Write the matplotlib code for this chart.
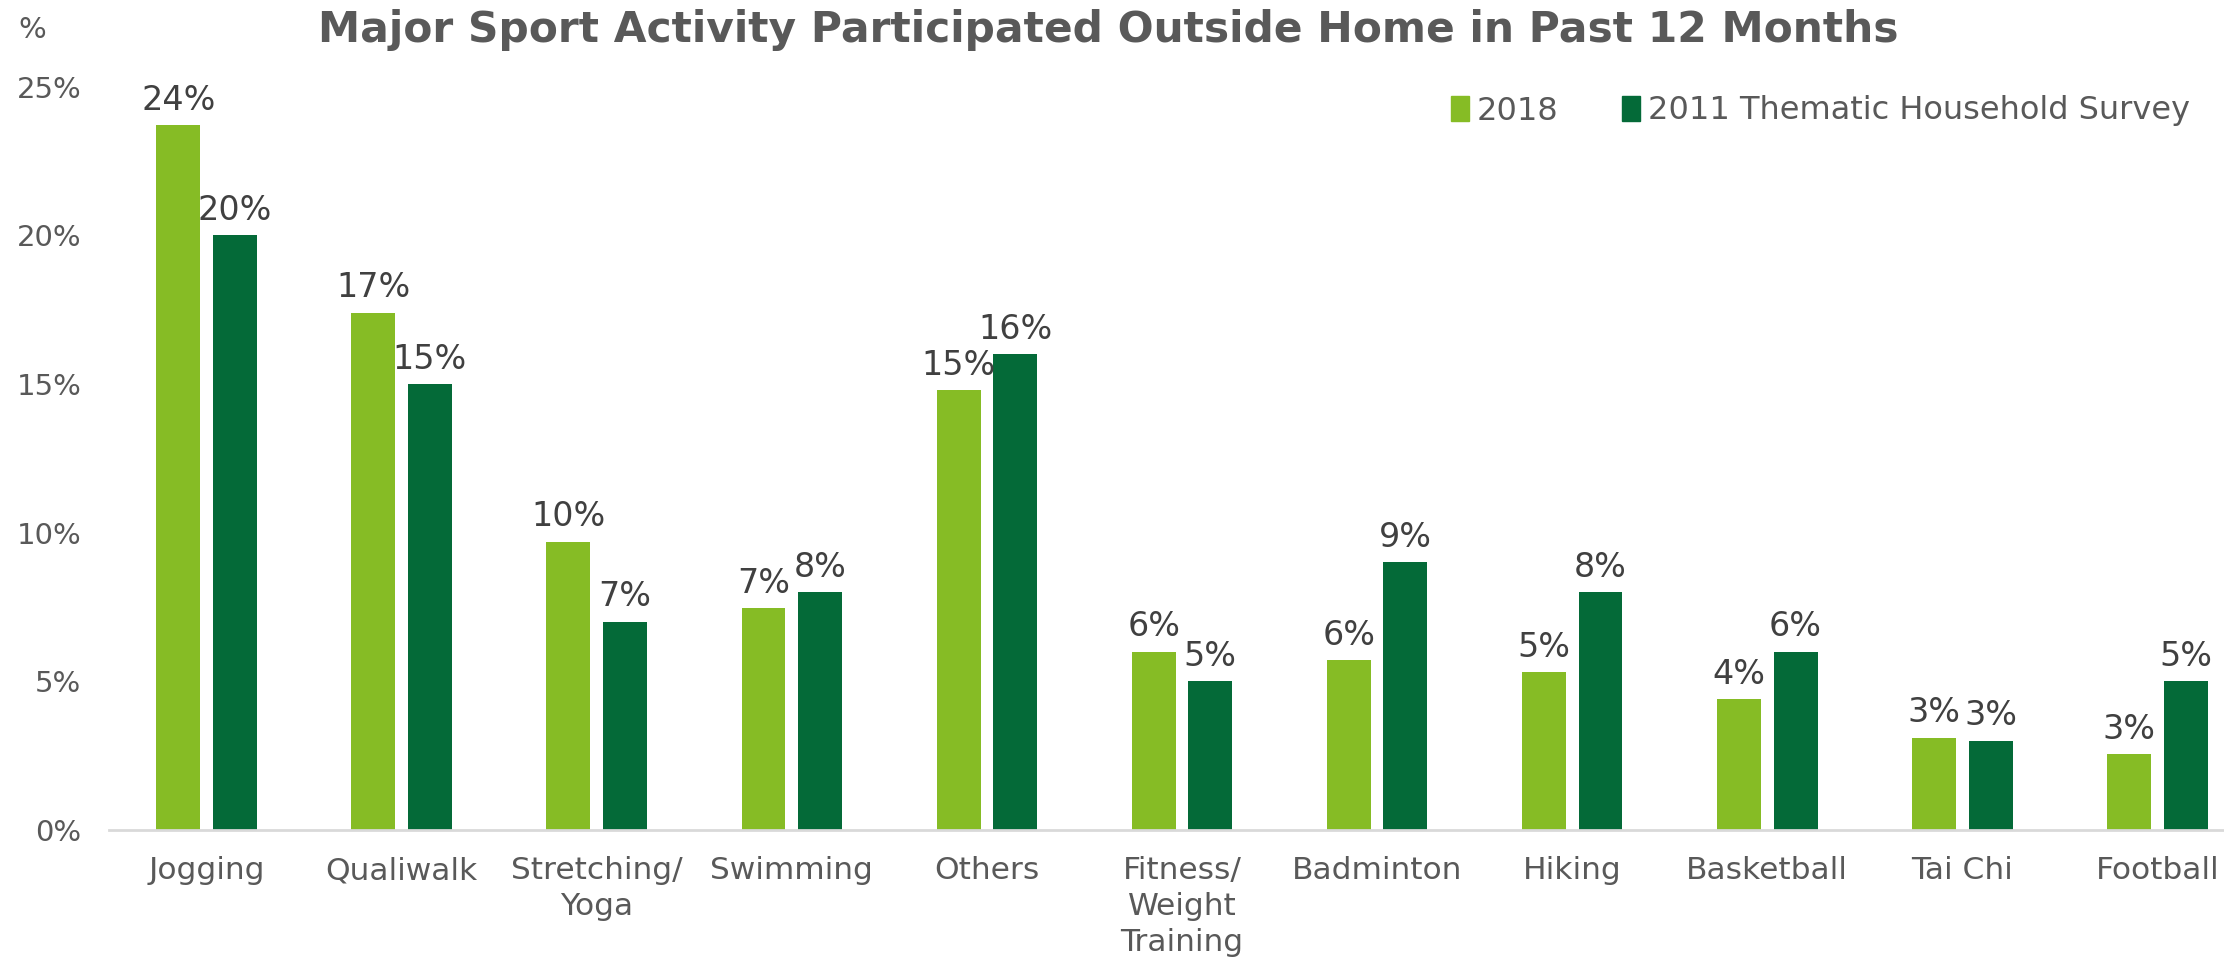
import numpy as np
import matplotlib
matplotlib.use('Agg')
import matplotlib.pyplot as plt
from matplotlib.patches import Patch

#region data
categories = ['Jogging', 'Qualiwalk', 'Stretching/\nYoga', 'Swimming', 'Others',
              'Fitness/\nWeight\nTraining', 'Badminton', 'Hiking', 'Basketball',
              'Tai Chi', 'Football']
vals_2018 = [23.7, 17.4, 9.7, 7.45, 14.8, 6.0, 5.7, 5.3, 4.4, 3.1, 2.55]
vals_2011 = [20, 15, 7, 8, 16, 5, 9, 8, 6, 3, 5]
series_names = ['2018', '2011 Thematic Household Survey']
yticks = [0, 5, 10, 15, 20, 25]
#endregion

#region style
LIGHT = '#86BC25'
DARK = '#046A38'
TXT = '#595959'
LBL = '#404040'
W, H = 2224, 967
#endregion

plt.rcParams['font.family'] = ['DejaVu Sans']
fig = plt.figure(figsize=(W / 100, H / 100), dpi=100)
ax = fig.add_axes([109 / W, 1 - 830 / H, (2255 - 109) / W, (830 - 86.5) / H])

x = np.arange(len(categories))
bw = 0.225
off = 0.145
b1 = ax.bar(x - off, vals_2018, bw, color=LIGHT, label=series_names[0])
b2 = ax.bar(x + off, vals_2011, bw, color=DARK, label=series_names[1])

for bars, vals in ((b1, vals_2018), (b2, vals_2011)):
  for rect, v in zip(bars, vals):
    ax.annotate('%d%%' % int(v + 0.5), (rect.get_x() + rect.get_width() / 2, v),
                xytext=(0, 6), textcoords='offset points', ha='center', va='bottom',
                fontsize=24, color=LBL)

ax.set_xlim(-0.5, len(categories) - 0.5)
ax.set_ylim(0, 25)
ax.set_yticks(yticks)
ax.set_yticklabels(['%d%%' % t for t in yticks], fontsize=21, color=TXT)
ax.set_xticks(x)
ax.set_xticklabels(categories, fontsize=22.5, color=TXT, linespacing=1.3)
ax.tick_params(length=0)
ax.tick_params(axis='x', pad=19)
ax.tick_params(axis='y', pad=20)
for s in ('top', 'right', 'left'):
  ax.spines[s].set_visible(False)
ax.spines['bottom'].set_color('#D9D9D9')
ax.spines['bottom'].set_linewidth(2)

fig.text(18 / W, 1 - 30 / H, '%', fontsize=21, color=TXT, ha='left', va='center')
fig.text(1108 / W, 1 - 30 / H, 'Major Sport Activity Participated Outside Home in Past 12 Months',
         fontsize=30.5, fontweight='bold', color=TXT, ha='center', va='center')

handles = [Patch(color=LIGHT), Patch(color=DARK)]
fig.legend(handles, series_names, loc='center right', bbox_to_anchor=(2190 / W, 1 - 111 / H),
           ncol=2, frameon=False, fontsize=23, labelcolor=TXT, handlelength=0.55,
           handleheight=0.8, handletextpad=0.25, columnspacing=2.0,
           borderaxespad=0, borderpad=0)

fig.savefig('out.png', dpi=100)
